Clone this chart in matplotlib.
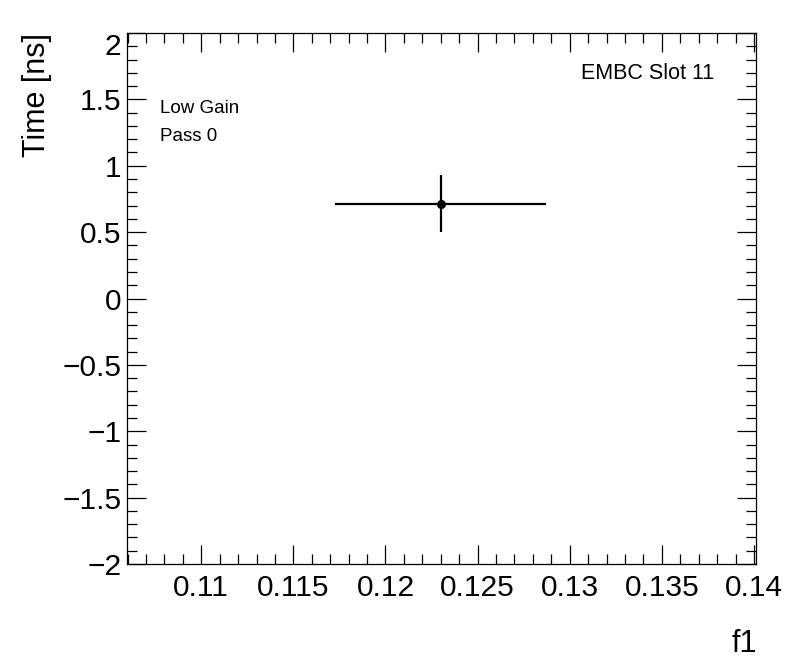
import matplotlib
matplotlib.use('Agg')
import matplotlib.pyplot as plt
from matplotlib.ticker import MultipleLocator, FuncFormatter

# data
f1_vals = [0.1230]
f1_errs = [0.00572]
time_vals = [0.714]
time_errs = [0.215]

plt.rcParams['font.family'] = ['Liberation Sans', 'DejaVu Sans']

fig = plt.figure(figsize=(7.96, 6.72), dpi=100)
ax = fig.add_axes([0.1596, 0.1607, 0.7901, 0.7902])

ax.errorbar(f1_vals, time_vals, xerr=f1_errs, yerr=time_errs,
            fmt='o', color='black', markersize=5.5, elinewidth=1.6,
            capsize=0)

ax.set_xlim(0.10597, 0.14011)
ax.set_ylim(-2, 2)

ax.xaxis.set_major_locator(MultipleLocator(0.005))
ax.xaxis.set_minor_locator(MultipleLocator(0.001))
ax.yaxis.set_major_locator(MultipleLocator(0.5))
ax.yaxis.set_minor_locator(MultipleLocator(0.1))

ax.xaxis.set_major_formatter(FuncFormatter(lambda v, p: '%g' % round(v, 4)))
ax.yaxis.set_major_formatter(FuncFormatter(lambda v, p: ('%g' % v).replace('-', '\u2212')))

ax.tick_params(which='both', direction='in', top=True, right=True, width=0.9)
ax.tick_params(which='major', length=14, labelsize=21.5)
ax.tick_params(which='minor', length=7)
ax.tick_params(axis='x', pad=7)
ax.tick_params(axis='y', pad=4)
for s in ax.spines.values():
    s.set_linewidth(0.9)

fig.text(0.047, 0.951, 'Time [ns]', rotation=90, ha='center', va='top', fontsize=22)
fig.text(0.951, 0.03, 'f1', ha='right', va='baseline', fontsize=22)

ax.text(0.0525, 0.85, 'Low Gain', transform=ax.transAxes, fontsize=13.5, va='baseline')
ax.text(0.0525, 0.796, 'Pass 0', transform=ax.transAxes, fontsize=13.5, va='baseline')
ax.text(0.934, 0.913, 'EMBC Slot 11', transform=ax.transAxes, fontsize=15.5,
        ha='right', va='baseline')

# top y label sits below its tick, as in the reference
fig.canvas.draw()
for t in ax.yaxis.get_major_ticks():
    if abs(t.get_loc() - 2.0) < 1e-9:
        t.label1.set_verticalalignment('top')
        t.label1.set_y(2.0)

fig.savefig('out.png', dpi=100)
